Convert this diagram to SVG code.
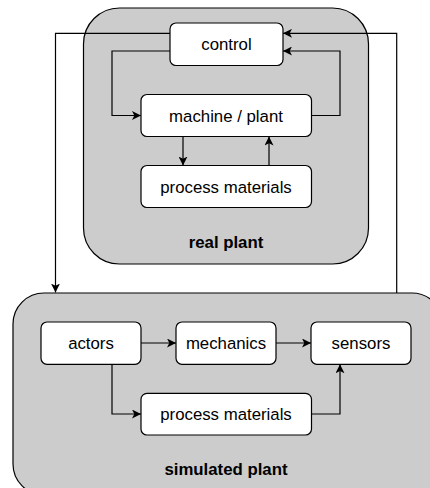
<svg xmlns="http://www.w3.org/2000/svg" width="430" height="488" viewBox="0 0 430 488">
<defs>
<style>
.container{fill:#cccccc;stroke:#000;stroke-width:1.2}
.node{fill:#fff;stroke:#000;stroke-width:1.2}
.lbl{font-family:"Liberation Sans",Arial,sans-serif;font-size:16.8px;fill:#000;text-anchor:middle}
.bold{font-weight:bold}
.edge{fill:none;stroke:#000;stroke-width:1.2}
</style>
<marker id="arr" markerUnits="userSpaceOnUse" viewBox="0 0 9 9" markerWidth="9" markerHeight="9" refX="9" refY="4.5" orient="auto">
<path d="M0,0 L9,4.5 L0,9 L2.3,4.5 Z" fill="#000"/>
</marker>
</defs>
<g id="real-plant">
<rect class="container" x="83.5" y="8" width="285" height="256" rx="36" ry="36"/>
<text class="lbl bold" x="226" y="248">real plant</text>
</g>
<g id="simulated-plant">
<rect class="container" x="13" y="293" width="430" height="202" rx="31" ry="31"/>
<text class="lbl bold" x="226" y="475">simulated plant</text>
</g>
<g id="connectors">
<path class="edge" d="M170,33.3 H55.5 V292.5" marker-end="url(#arr)"/>
<path class="edge" d="M396.7,293 V33.3 H283" marker-end="url(#arr)"/>
<path class="edge" d="M170,51 H112 V115.5 H141" marker-end="url(#arr)"/>
<path class="edge" d="M311.5,115.5 H340 V51 H283" marker-end="url(#arr)"/>
<path class="edge" d="M183,136.5 V165.5" marker-end="url(#arr)"/>
<path class="edge" d="M269,165.5 V136.5" marker-end="url(#arr)"/>
<path class="edge" d="M141,343 H176" marker-end="url(#arr)"/>
<path class="edge" d="M276,343 H311" marker-end="url(#arr)"/>
<path class="edge" d="M112,364.3 V414 H141" marker-end="url(#arr)"/>
<path class="edge" d="M311.5,414 H340 V364.3" marker-end="url(#arr)"/>
</g>
<g id="control">
<rect class="node" x="170" y="23" width="113" height="42.5" rx="6" ry="6"/>
<text class="lbl" x="226.5" y="50">control</text>
</g>
<g id="machine-plant">
<rect class="node" x="141" y="94.5" width="170.5" height="42" rx="6" ry="6"/>
<text class="lbl" x="226" y="121.5">machine / plant</text>
</g>
<g id="process-materials-real">
<rect class="node" x="141" y="165.5" width="170.5" height="42" rx="6" ry="6"/>
<text class="lbl" x="226" y="192.5">process materials</text>
</g>
<g id="actors">
<rect class="node" x="41" y="322" width="100" height="42.3" rx="6" ry="6"/>
<text class="lbl" x="91" y="349">actors</text>
</g>
<g id="mechanics">
<rect class="node" x="176" y="322" width="100" height="42.3" rx="6" ry="6"/>
<text class="lbl" x="226" y="349">mechanics</text>
</g>
<g id="sensors">
<rect class="node" x="311" y="322" width="100" height="42.3" rx="6" ry="6"/>
<text class="lbl" x="361" y="349">sensors</text>
</g>
<g id="process-materials-sim">
<rect class="node" x="141" y="393.3" width="170.5" height="41.7" rx="6" ry="6"/>
<text class="lbl" x="226" y="420">process materials</text>
</g>
</svg>
